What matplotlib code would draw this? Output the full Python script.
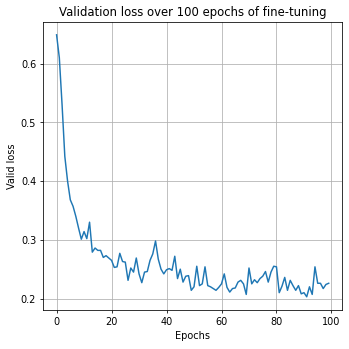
import matplotlib
matplotlib.use("Agg")
import matplotlib.pyplot as plt
import numpy as np

# validation loss per epoch
valid_loss = [
    0.649, 0.610, 0.530, 0.442, 0.400, 0.368, 0.357, 0.340, 0.320, 0.301,
    0.314, 0.302, 0.330, 0.279, 0.286, 0.282, 0.282, 0.270, 0.273, 0.269,
    0.265, 0.253, 0.254, 0.277, 0.263, 0.262, 0.231, 0.252, 0.245, 0.269,
    0.242, 0.227, 0.245, 0.246, 0.265, 0.276, 0.298, 0.267, 0.250, 0.242,
    0.249, 0.251, 0.248, 0.272, 0.234, 0.250, 0.228, 0.238, 0.239, 0.214,
    0.220, 0.255, 0.222, 0.225, 0.254, 0.222, 0.220, 0.217, 0.214, 0.219,
    0.225, 0.242, 0.219, 0.211, 0.217, 0.218, 0.228, 0.231, 0.225, 0.207,
    0.252, 0.225, 0.232, 0.227, 0.234, 0.238, 0.246, 0.228, 0.245, 0.255,
    0.254, 0.210, 0.221, 0.236, 0.214, 0.231, 0.222, 0.214, 0.222, 0.208,
    0.210, 0.203, 0.220, 0.207, 0.254, 0.226, 0.226, 0.217, 0.224, 0.226,
]
epochs = np.arange(len(valid_loss))

fig = plt.figure(figsize=(4.99, 4.99), dpi=70)
ax = fig.add_axes([0.123, 0.112, 0.857, 0.825])
ax.plot(epochs, valid_loss)
ax.set_title("Validation loss over 100 epochs of fine-tuning")
ax.set_xlabel("Epochs")
ax.set_ylabel("Valid loss")
ax.grid(True)

fig.savefig("out.png", dpi=70)
